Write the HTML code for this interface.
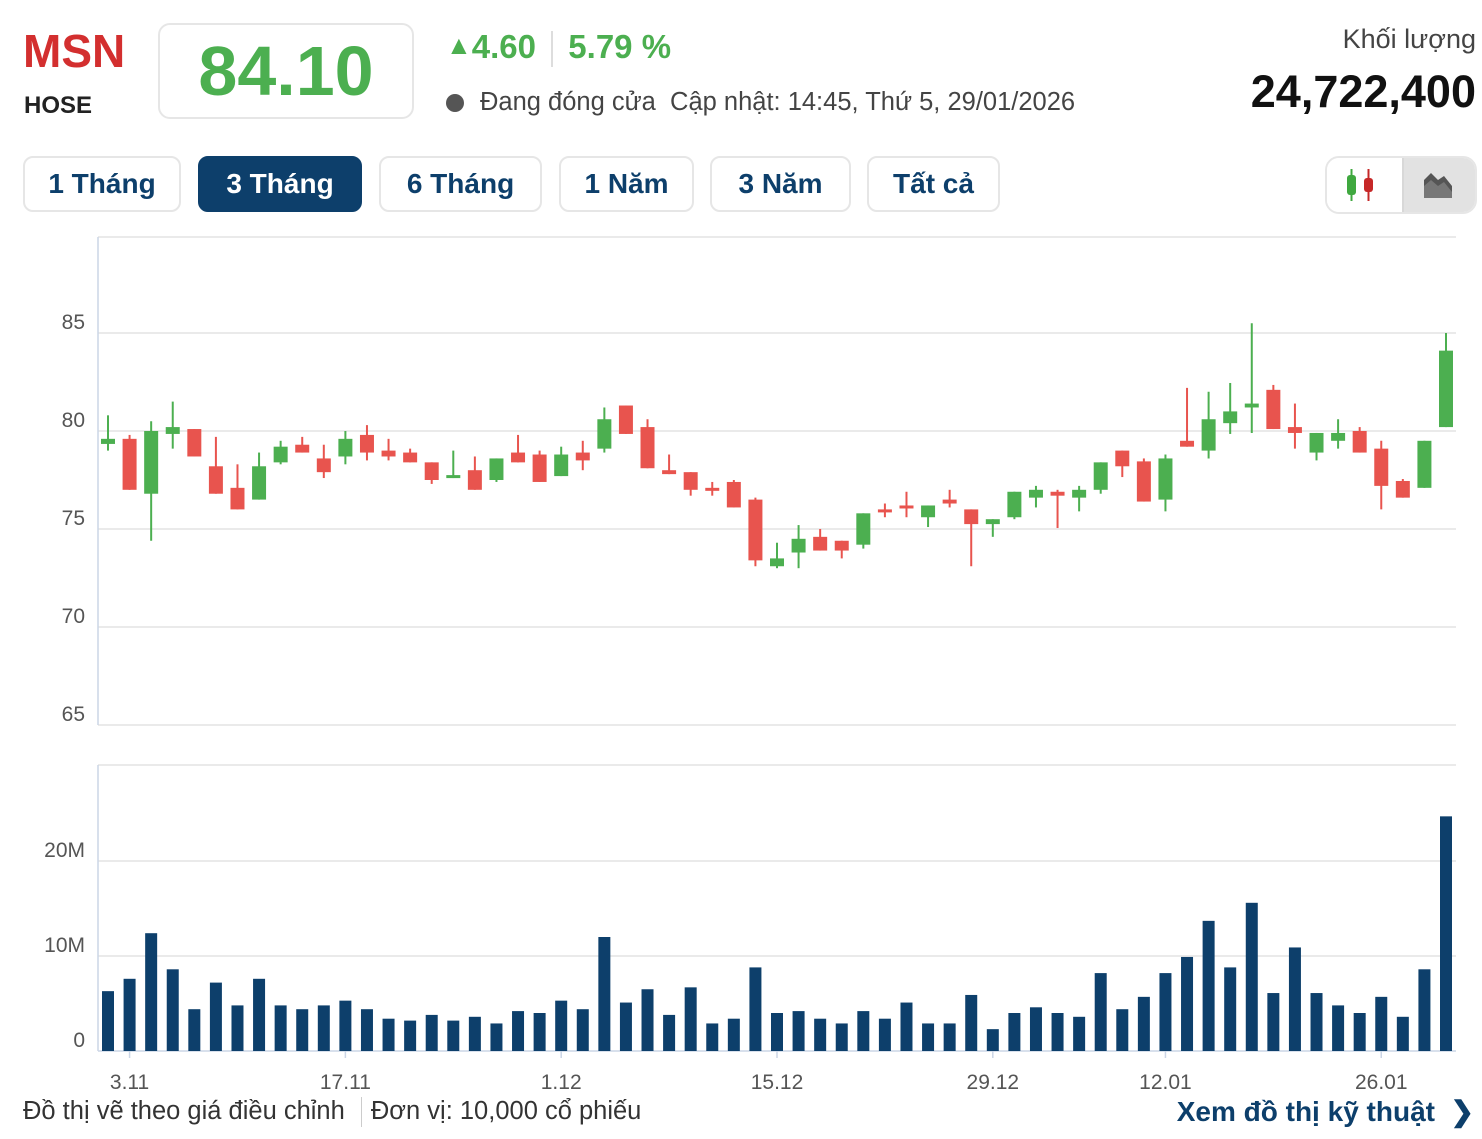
<!DOCTYPE html>
<html><head><meta charset="utf-8"><style>
body{margin:0;width:1482px;height:1139px;background:#fff;font-family:"Liberation Sans",sans-serif;position:relative;overflow:hidden}
.abs{position:absolute}
.tab{position:absolute;top:156px;height:56px;border:2px solid #e6e6e6;border-radius:10px;box-sizing:border-box;color:#0d3f6b;font-weight:bold;font-size:28px;line-height:52px;text-align:center;background:#fff}
.tab.act{background:#0d3f6b;color:#fff;border-color:#0d3f6b}
</style></head><body>
<div class="abs" style="left:23px;top:24px;font-size:46px;font-weight:bold;color:#d32f2f">MSN</div>
<div class="abs" style="left:24px;top:92px;font-size:24px;font-weight:bold;color:#222">HOSE</div>
<div class="abs" style="left:158px;top:23px;width:256px;height:96px;border:2px solid #e6e6e6;border-radius:12px;box-sizing:border-box;text-align:center;font-size:70px;font-weight:bold;color:#4caf50;line-height:92px">84.10</div>
<div class="abs" style="left:446px;top:28px;font-size:33px;font-weight:bold;color:#4caf50"><span style="font-size:26px;position:relative;top:-4px">▲</span>4.60 <span style="display:inline-block;width:2px;height:36px;background:#ddd;vertical-align:middle;margin:0 6px"></span> 5.79 %</div>
<div class="abs" style="left:446px;top:88px;font-size:25.5px;color:#444"><span style="display:inline-block;width:18px;height:18px;border-radius:50%;background:#555;vertical-align:middle;margin-right:16px"></span>Đang đóng cửa&nbsp; Cập nhật: 14:45, Thứ 5, 29/01/2026</div>
<div class="abs" style="right:6px;top:24px;font-size:27px;color:#444">Khối lượng</div>
<div class="abs" style="right:6px;top:66px;font-size:45px;font-weight:bold;color:#111">24,722,400</div>
<div class="tab" style="left:23px;width:158px">1 Tháng</div>
<div class="tab act" style="left:198px;width:164px">3 Tháng</div>
<div class="tab" style="left:379px;width:163px">6 Tháng</div>
<div class="tab" style="left:559px;width:135px">1 Năm</div>
<div class="tab" style="left:710px;width:141px">3 Năm</div>
<div class="tab" style="left:867px;width:133px">Tất cả</div>
<div class="abs" style="left:1325px;top:156px;width:152px;height:58px;border:2px solid #e6e6e6;border-radius:14px;box-sizing:border-box;overflow:hidden">
 <div class="abs" style="left:0;top:0;width:75px;height:54px;background:#fff">
  <svg width="75" height="54"><rect x="20" y="17" width="9" height="20" rx="3" fill="#3fa83f"/><rect x="23.5" y="11" width="2" height="32" fill="#3fa83f"/><rect x="37" y="20" width="9" height="14" rx="3" fill="#c62828"/><rect x="40.5" y="11" width="2" height="32" fill="#c62828"/></svg></div>
 <div class="abs" style="left:75px;top:0;width:77px;height:54px;background:#e2e2e2;border-left:2px solid #d8d8d8">
  <svg width="75" height="54"><polygon points="20,40 20,22 27,15 34,22 40,18 48,28 48,40" fill="#555"/><polygon points="20,40 20,28 27,22 34,28 40,24 48,34 48,40" fill="#777"/></svg></div>
</div>
<svg id="chart" class="abs" style="left:0;top:0" width="1482" height="1139"></svg>
<div class="abs" style="left:23px;top:1097px;font-size:25.5px;color:#333">Đồ thị vẽ theo giá điều chỉnh <span style="display:inline-block;width:1px;height:30px;background:#ccc;vertical-align:middle;margin:0 9px"></span>Đơn vị: 10,000 cổ phiếu</div>
<div class="abs" style="right:8px;top:1095px;font-size:28px;font-weight:bold;color:#0d3f6b">Xem đồ thị kỹ thuật&nbsp; ❯</div>
<script>
const opens=[79.34,79.6,76.8,79.85,80.1,78.2,77.1,76.5,78.4,79.3,78.6,78.7,79.8,79.0,78.9,78.4,77.6,78.0,77.5,78.9,78.8,77.7,78.9,79.1,81.3,80.2,78.0,77.9,77.1,77.4,76.5,73.1,73.8,74.6,74.4,74.2,76.0,76.2,75.6,76.5,76.0,75.25,75.6,76.6,76.9,76.6,77.0,79.0,78.45,76.5,79.5,79.0,80.4,81.2,82.1,80.2,78.9,79.5,80.0,79.1,77.45,77.1,80.2];
const closes=[79.6,77.0,80.0,80.2,78.7,76.8,76.0,78.2,79.2,78.9,77.9,79.6,78.9,78.7,78.4,77.5,77.75,77.0,78.6,78.4,77.4,78.8,78.5,80.6,79.85,78.1,77.8,77.0,77.0,76.1,73.4,73.5,74.5,73.9,73.9,75.8,75.9,76.1,76.2,76.3,75.25,75.5,76.9,77.0,76.7,77.0,78.4,78.2,76.4,78.6,79.2,80.6,81.0,81.4,80.1,79.9,79.9,79.9,78.9,77.2,76.6,79.5,84.1];
const highs=[80.8,79.8,80.5,81.5,80.1,79.7,78.3,78.9,79.5,79.7,79.3,80.0,80.3,79.6,79.1,78.4,79.0,78.7,78.6,79.8,79.0,79.2,79.5,81.2,81.3,80.6,78.8,77.9,77.4,77.5,76.6,74.3,75.2,75.0,74.4,75.8,76.3,76.9,76.2,77.0,76.0,75.5,76.9,77.2,77.0,77.2,78.4,79.0,78.6,78.8,82.2,82.0,82.45,85.5,82.35,81.4,79.9,80.6,80.2,79.5,77.55,79.5,85.0];
const lows=[79.0,77.0,74.4,79.1,78.7,76.8,76.0,76.5,78.3,78.9,77.6,78.3,78.5,78.5,78.4,77.3,77.6,77.0,77.4,78.4,77.4,77.7,78.0,78.9,79.85,78.1,77.8,76.7,76.7,76.1,73.1,73.0,73.0,73.9,73.5,74.0,75.6,75.6,75.1,76.1,73.1,74.6,75.5,76.1,75.05,75.9,76.8,77.65,76.4,75.9,79.2,78.6,79.85,79.9,80.1,79.1,78.5,79.1,78.9,76.0,76.6,77.1,80.2];
const volumes=[6.3,7.6,12.4,8.6,4.4,7.2,4.8,7.6,4.8,4.4,4.8,5.3,4.4,3.4,3.2,3.8,3.2,3.6,2.9,4.2,4.0,5.3,4.4,12.0,5.1,6.5,3.8,6.7,2.9,3.4,8.8,4.0,4.2,3.4,2.9,4.2,3.4,5.1,2.9,2.9,5.9,2.3,4.0,4.6,4.0,3.6,8.2,4.4,5.7,8.2,9.9,13.7,8.8,15.6,6.1,10.9,6.1,4.8,4.0,5.7,3.6,8.6,24.7];
const priceTicks=[85,80,75,70,65];
const volTicks=[0,10,20];
const volTickLabels=["0","10M","20M"];
const dateLabels=["3.11","17.11","1.12","15.12","29.12","12.01","26.01"];
const dateIndex=[1,11,21,31,41,49,59];

const svg=document.getElementById('chart');
const NS='http://www.w3.org/2000/svg';
function mk(t,a,p){const e=document.createElementNS(NS,t);for(const k in a)e.setAttribute(k,a[k]);(p||svg).appendChild(e);return e;}
const xOf=i=>108+i*(1446-108)/(opens.length-1);
const yP=v=>333+(85-v)*19.6;
const yV=v=>1051-v*9.5;
let g=mk('line',{x1:98,y1:237,x2:1456,y2:237,stroke:'#e3e3e3','stroke-width':1.5});


priceTicks.forEach(t=>{
 const l=mk('line',{x1:98,y1:yP(t),x2:1456,y2:yP(t),stroke:'#e3e3e3','stroke-width':1.5});
 
 
 const tx=mk('text',{x:85,y:yP(t)-4,'text-anchor':'end','font-size':21,fill:'#555','font-family':'Liberation Sans'});
 tx.textContent=t;
 
 
});
let ax=mk('line',{x1:98,y1:237,x2:98,y2:725,stroke:'#ccd6e6','stroke-width':1.5});


let g2=mk('line',{x1:98,y1:765,x2:1456,y2:765,stroke:'#e3e3e3','stroke-width':1.5});


volTicks.forEach((t,k)=>{
 const l=mk('line',{x1:98,y1:yV(t),x2:1456,y2:yV(t),stroke:k==0?'#ccd6e6':'#e3e3e3','stroke-width':1.5});
 
 
 const tx=mk('text',{x:85,y:yV(t)-4,'text-anchor':'end','font-size':21,fill:'#555','font-family':'Liberation Sans'});
 tx.textContent=volTickLabels[k];
 
 
});
let ax2=mk('line',{x1:98,y1:765,x2:98,y2:1051,stroke:'#ccd6e6','stroke-width':1.5});


opens.forEach((o,i)=>{
 const c=closes[i],up=c>=o,col=up?'#4caf50':'#e8544e',x=xOf(i);
 const w=mk('line',{x1:x,x2:x,y1:yP(highs[i]),y2:yP(lows[i]),stroke:col,'stroke-width':2});
 
 
 const top=yP(Math.max(o,c)),h=Math.max(3,yP(Math.min(o,c))-top);
 const b=mk('rect',{x:x-7,y:top,width:14,height:h,fill:col});
 
 
});
volumes.forEach((v,i)=>{
 const x=xOf(i);
 const r=mk('rect',{x:x-6,y:yV(v),width:12,height:yV(0)-yV(v),fill:'#0d3f6b'});
 
 
});
dateLabels.forEach((d,k)=>{
 const x=xOf(dateIndex[k]);
 const tk=mk('line',{x1:x,x2:x,y1:1051,y2:1058,stroke:'#ccd6e6','stroke-width':1.5});
 
 
 const tx=mk('text',{x:x,y:1089,'text-anchor':'middle','font-size':21,fill:'#555','font-family':'Liberation Sans'});
 tx.textContent=d;
 
 
});
</script>
</body></html>
